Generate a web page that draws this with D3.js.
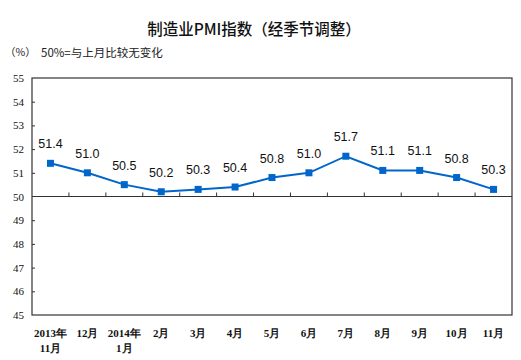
<!DOCTYPE html>
<html><head><meta charset="utf-8">
<script src="https://cdn.jsdelivr.net/npm/d3@7"></script>
<style>body{margin:0;background:#fff}</style>
</head><body>
<svg id="c" width="521" height="360"></svg>
<script>
const categories = ["2013年\n11月","12月","2014年\n1月","2月","3月","4月","5月","6月","7月","8月","9月","10月","11月"];
const pmiValues = [51.4,51.0,50.5,50.2,50.3,50.4,50.8,51.0,51.7,51.1,51.1,50.8,50.3];
const yTicks = [45,46,47,48,49,50,51,52,53,54,55];
const titleText = "制造业PMI指数（经季节调整）";
const unitText = "（%）";
const noteText = "50%=与上月比较无变化";

(function(){
const svg = d3.select("#c");
const pl = 32, pr = 512, pt = 78, pb = 315;
const x = d3.scaleBand().domain(d3.range(categories.length)).range([pl, pr]);
const y = d3.scaleLinear().domain([45,55]).range([pb, pt]);
const ink = "#333";

svg.append("text").attr("x", 254).attr("y", 35).attr("text-anchor","middle")
  .attr("font-family","'Noto Sans CJK SC'").attr("font-size",15.5).attr("font-weight",500)
  .attr("fill","#111").text(titleText);
svg.append("text").attr("x", 5).attr("y", 56)
  .attr("font-family","'Noto Sans CJK SC'").attr("font-size",10.5).attr("fill","#222").text(unitText);
svg.append("text").attr("x", 41).attr("y", 57)
  .attr("font-family","'Noto Sans CJK SC'").attr("font-size",11.5).attr("fill","#222").text(noteText);

svg.append("rect").attr("x",pl).attr("y",pt).attr("width",pr-pl).attr("height",pb-pt)
  .attr("fill","none").attr("stroke",ink).attr("stroke-width",1.2);

const yAxis = d3.axisLeft(y).tickValues(yTicks).tickSize(-3).tickPadding(8);
const ga = svg.append("g").attr("transform",`translate(${pl},0)`).call(yAxis);
ga.select(".domain").remove();
ga.selectAll(".tick line").attr("stroke",ink);
ga.selectAll(".tick").filter(d=>d===55||d===45||d===50).select("line").remove();
ga.selectAll("text").attr("font-family","'Liberation Serif'").attr("font-size",11).attr("fill","#111");

const gx = svg.append("g").attr("transform",`translate(0,${y(50)})`);
gx.append("line").attr("x1",pl).attr("x2",pr).attr("stroke",ink).attr("stroke-width",1.2);
gx.selectAll("line.t").data(d3.range(1,categories.length)).join("line").attr("class","t")
  .attr("x1",i=>x(i)).attr("x2",i=>x(i)).attr("y1",0).attr("y2",-4).attr("stroke",ink);

const lab = svg.append("g");
categories.forEach((c,i)=>{
  const t = lab.append("text").attr("text-anchor","middle")
    .attr("font-family","'Liberation Serif'").attr("font-size",11).attr("font-weight","bold").attr("fill","#111");
  c.split("\n").forEach((s,k)=>{
    t.append("tspan").attr("x", x(i)+x.bandwidth()/2).attr("y", 337 + k*15).text(s);
  });
});

const cx = i => x(i)+x.bandwidth()/2;
const blue = "#0066CC";
svg.append("path").datum(pmiValues)
  .attr("d", d3.line().x((d,i)=>cx(i)).y(d=>y(d)))
  .attr("fill","none").attr("stroke",blue).attr("stroke-width",2);
svg.selectAll("rect.m").data(pmiValues).join("rect").attr("class","m")
  .attr("x",(d,i)=>cx(i)-3.5).attr("y",d=>y(d)-3.5).attr("width",7).attr("height",7).attr("fill",blue);
svg.selectAll("text.v").data(pmiValues).join("text").attr("class","v")
  .attr("x",(d,i)=>cx(i)).attr("y",d=>y(d)-15).attr("text-anchor","middle")
  .attr("font-family","'Liberation Sans'").attr("font-size",12.5).attr("fill","#111")
  .text(d=>d.toFixed(1));
})();
</script>
</body></html>
